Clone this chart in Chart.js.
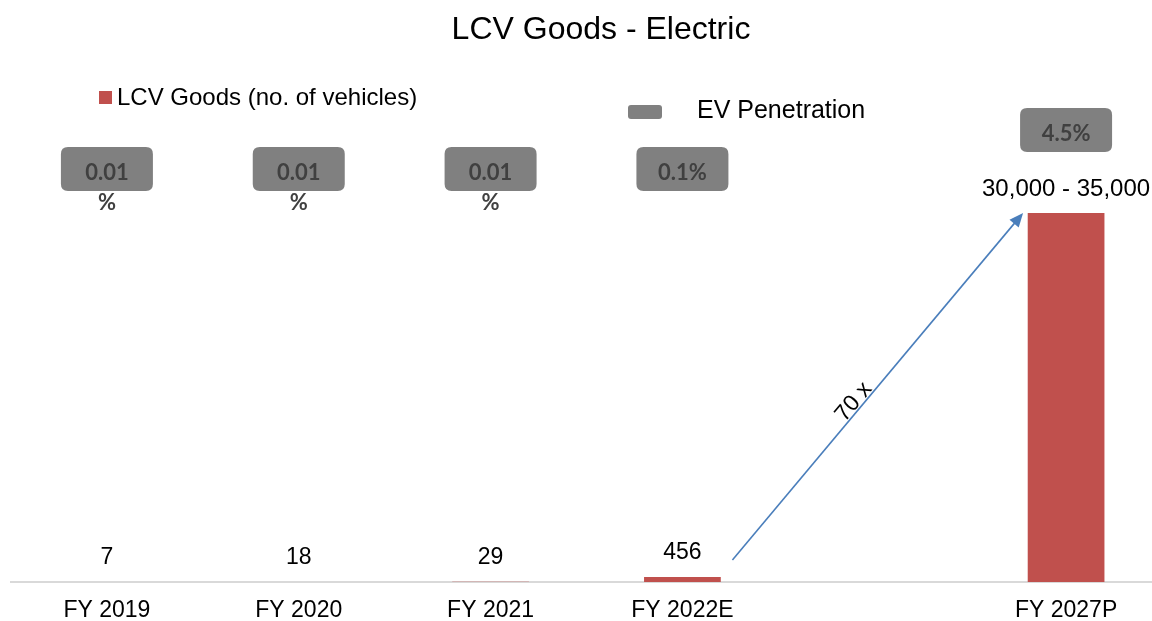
<!DOCTYPE html>
<html>
<head>
<meta charset="utf-8">
<script src="https://cdn.jsdelivr.net/npm/chart.js@4.4.0/dist/chart.umd.min.js"></script>
<style>
  html, body { margin: 0; padding: 0; background: #fff; overflow: hidden; }
  #wrap { position: relative; width: 1162px; height: 640px; }
</style>
</head>
<body>
<div id="wrap"><canvas id="myChart"></canvas></div>
<script>
// data
var categories = ['FY 2019', 'FY 2020', 'FY 2021', 'FY 2022E', '', 'FY 2027P'];
var vehicles = [7, 18, 29, 456, null, 32500];
var vehicleLabels = ['7', '18', '29', '456', '', '30,000 - 35,000'];
var penetration = [0.01, 0.01, 0.01, 0.1, null, 4.5];
var penetrationLabels = [['0.01', '%'], ['0.01', '%'], ['0.01', '%'], ['0.1%'], null, ['4.5%']];
var growthLabel = '70 x';

var ARIAL = "'Liberation Sans', Arial, sans-serif";
var BAR_COLOR = '#c0504d';
var BOX_COLOR = '#808080';
var ARROW_COLOR = '#4a7ebb';

function roundRect(ctx, x, y, w, h, r) {
  ctx.beginPath();
  ctx.moveTo(x + r, y);
  ctx.lineTo(x + w - r, y);
  ctx.quadraticCurveTo(x + w, y, x + w, y + r);
  ctx.lineTo(x + w, y + h - r);
  ctx.quadraticCurveTo(x + w, y + h, x + w - r, y + h);
  ctx.lineTo(x + r, y + h);
  ctx.quadraticCurveTo(x, y + h, x, y + h - r);
  ctx.lineTo(x, y + r);
  ctx.quadraticCurveTo(x, y, x + r, y);
  ctx.closePath();
}

var extras = {
  id: 'extras',
  afterDatasetsDraw: function(chart) {
    var ctx = chart.ctx;
    var meta = chart.getDatasetMeta(0);
    var base = chart.scales.y.getPixelForValue(0);
    ctx.save();

    // title
    ctx.fillStyle = '#000';
    ctx.textAlign = 'center';
    ctx.textBaseline = 'middle';
    ctx.font = '32px ' + ARIAL;
    ctx.fillText('LCV Goods - Electric', 601, 30);

    // legend
    ctx.fillStyle = BAR_COLOR;
    ctx.fillRect(99, 91, 13, 13);
    ctx.fillStyle = '#000';
    ctx.textAlign = 'left';
    ctx.font = '24px ' + ARIAL;
    ctx.fillText(chart.data.datasets[0].label, 117, 98);
    ctx.fillStyle = BOX_COLOR;
    roundRect(ctx, 628, 105, 34, 14, 3);
    ctx.fill();
    ctx.fillStyle = '#000';
    ctx.font = '25px ' + ARIAL;
    ctx.fillText('EV Penetration', 697, 111);

    // value labels and penetration boxes
    meta.data.forEach(function(bar, i) {
      if (vehicles[i] == null) return;
      ctx.fillStyle = '#000';
      ctx.textAlign = 'center';
      ctx.font = (i === 5 ? '24px ' : '23px ') + ARIAL;
      ctx.fillText(vehicleLabels[i], bar.x, bar.y - 24);

      var lines = penetrationLabels[i];
      if (!lines) return;
      var cy = Math.min(169, bar.y - 83);
      ctx.fillStyle = BOX_COLOR;
      roundRect(ctx, bar.x - 46, cy - 22, 92, 44, 7);
      ctx.fill();
      ctx.fillStyle = '#404040';
      ctx.font = 'bold 22px Lato, sans-serif';
      ctx.fillText(lines[0], bar.x, cy + 4);
      if (lines[1]) ctx.fillText(lines[1], bar.x, cy + 34);
    });

    // growth arrow from FY 2022E to FY 2027P
    var from = meta.data[3], to = meta.data[5];
    var x1 = from.x + 50, y1 = base - 22;
    var x2 = to.x - 43, y2 = to.y;
    var ang = Math.atan2(y2 - y1, x2 - x1);
    ctx.strokeStyle = ARROW_COLOR;
    ctx.fillStyle = ARROW_COLOR;
    ctx.lineWidth = 1.6;
    ctx.beginPath();
    ctx.moveTo(x1, y1);
    ctx.lineTo(x2 - 10 * Math.cos(ang), y2 - 10 * Math.sin(ang));
    ctx.stroke();
    ctx.beginPath();
    ctx.moveTo(x2, y2);
    ctx.lineTo(x2 - 14 * Math.cos(ang) + 6 * Math.sin(ang), y2 - 14 * Math.sin(ang) - 6 * Math.cos(ang));
    ctx.lineTo(x2 - 14 * Math.cos(ang) - 6 * Math.sin(ang), y2 - 14 * Math.sin(ang) + 6 * Math.cos(ang));
    ctx.closePath();
    ctx.fill();

    var t = 0.44;
    ctx.translate(x1 + (x2 - x1) * t, y1 + (y2 - y1) * t);
    ctx.rotate(ang);
    ctx.fillStyle = '#000';
    ctx.textAlign = 'center';
    ctx.textBaseline = 'bottom';
    ctx.font = '23px ' + ARIAL;
    ctx.fillText(growthLabel, 0, 3);

    ctx.restore();
  }
};

var ctx = document.getElementById('myChart');
var myChart = new Chart(ctx, {
  type: 'bar',
  data: {
    labels: categories,
    datasets: [{
      label: 'LCV Goods (no. of vehicles)',
      data: vehicles,
      backgroundColor: BAR_COLOR,
      categoryPercentage: 1,
      barPercentage: 0.4,
    }]
  },
  options: {
    responsive: true,
    maintainAspectRatio: false,
    animation: false,
    layout: { padding: { top: 46, left: 11, right: 0, bottom: 0 } },
    plugins: {
      legend: { display: false },
      title: { display: false },
      tooltip: { enabled: false },
    },
    scales: {
      x: {
        grid: { display: false, drawTicks: false },
        border: { display: true, color: '#d9d9d9', width: 2 },
        ticks: {
          color: '#000',
          padding: 18.6,
          font: { family: ARIAL, size: 23, lineHeight: 0.9 },
          maxRotation: 0,
          autoSkip: false,
        },
      },
      y: {
        display: false,
        min: 0,
        max: 47200,
      },
    },
  },
  plugins: [extras],
});
</script>
</body>
</html>
